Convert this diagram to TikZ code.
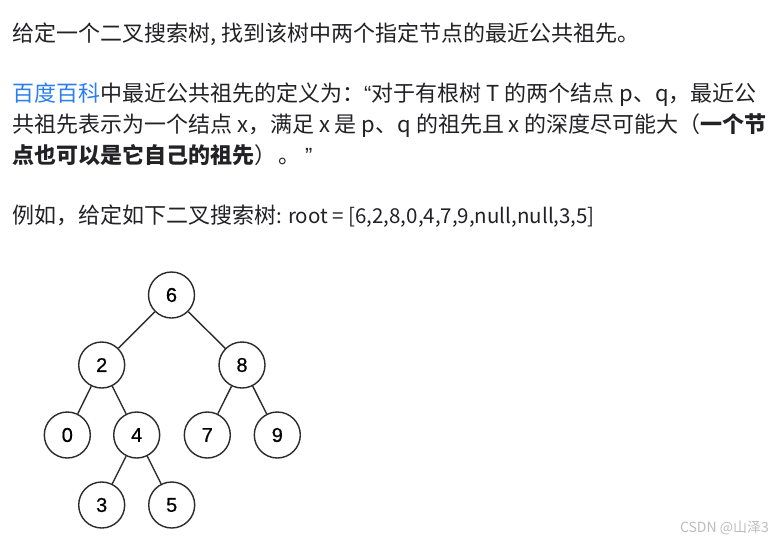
\documentclass[tikz,border=0pt]{standalone}
\usepackage{fontspec}
\setmainfont{Noto Sans CJK SC}
\newfontfamily\digitfont{Liberation Sans}
\newfontfamily\treedigits[FakeBold=0.6]{Liberation Sans}
\newcommand{\latrun}[1]{{\fontsize{20.5}{21}\selectfont #1}}
\newcommand{\nq}[1]{{\digitfont #1}}
\definecolor{txt}{HTML}{222226}
\definecolor{linkblue}{HTML}{2A7FF0}
\definecolor{treeline}{HTML}{2B2B2B}
\definecolor{wmark}{HTML}{BDBDBD}
\tikzset{
  textline/.style={anchor=base west, inner sep=0pt, text=txt, font=\fontsize{22}{22}\selectfont},
  treenode/.style={circle, draw=treeline, line width=1.4pt, minimum size=46pt, inner sep=0pt, text=black, font=\treedigits\fontsize{20}{20}\selectfont},
  treeedge/.style={draw=treeline, line width=1.4pt},
}
\begin{document}
\begin{tikzpicture}[x=1pt,y=-1pt]
\useasboundingbox (0,0) rectangle (775,544);
\fill[white] (0,0) rectangle (775,544);

\node[textline] (l1) at (12,41) {给定一个二叉搜索树, 找到该树中两个指定节点的最近公共祖先。};
\node[textline] (l2) at (12,101) {\textcolor{linkblue}{百度百科}中最近公共祖先的定义为：\nq{“}对于有根树 T 的两个结点 p、q，最近公};
\node[textline] (l3) at (12,132) {共祖先表示为一个结点 x，满足 x 是 p、q 的祖先且 x 的深度尽可能大（\textbf{一个节}};
\node[textline] (l4) at (12,163) {\textbf{点也可以是它自己的祖先}）\hspace{2pt}。\hspace{5pt}\nq{”}};
\node[textline] (l5) at (12,223) {例如，给定如下二叉搜索树\latrun{: root = [6,2,8,0,4,7,9,null,null,3,5]}};

\node[treenode] (n6) at (171.5,295) {6};
\node[treenode] (n2) at (101.7,365) {2};
\node[treenode] (n8) at (242,365) {8};
\node[treenode] (n0) at (67.3,435) {0};
\node[treenode] (n4) at (136.7,435) {4};
\node[treenode] (n7) at (207.3,435) {7};
\node[treenode] (n9) at (277.3,435) {9};
\node[treenode] (n3) at (101.7,505) {3};
\node[treenode] (n5) at (171.7,505) {5};

\draw[treeedge] (n6) -- (n2);
\draw[treeedge] (n6) -- (n8);
\draw[treeedge] (n2) -- (n0);
\draw[treeedge] (n2) -- (n4);
\draw[treeedge] (n8) -- (n7);
\draw[treeedge] (n8) -- (n9);
\draw[treeedge] (n4) -- (n3);
\draw[treeedge] (n4) -- (n5);

\node[anchor=east, inner sep=0pt, text=wmark, font=\fontsize{14}{14}\selectfont] (wm) at (769,528) {CSDN @山泽3};
\end{tikzpicture}
\end{document}
